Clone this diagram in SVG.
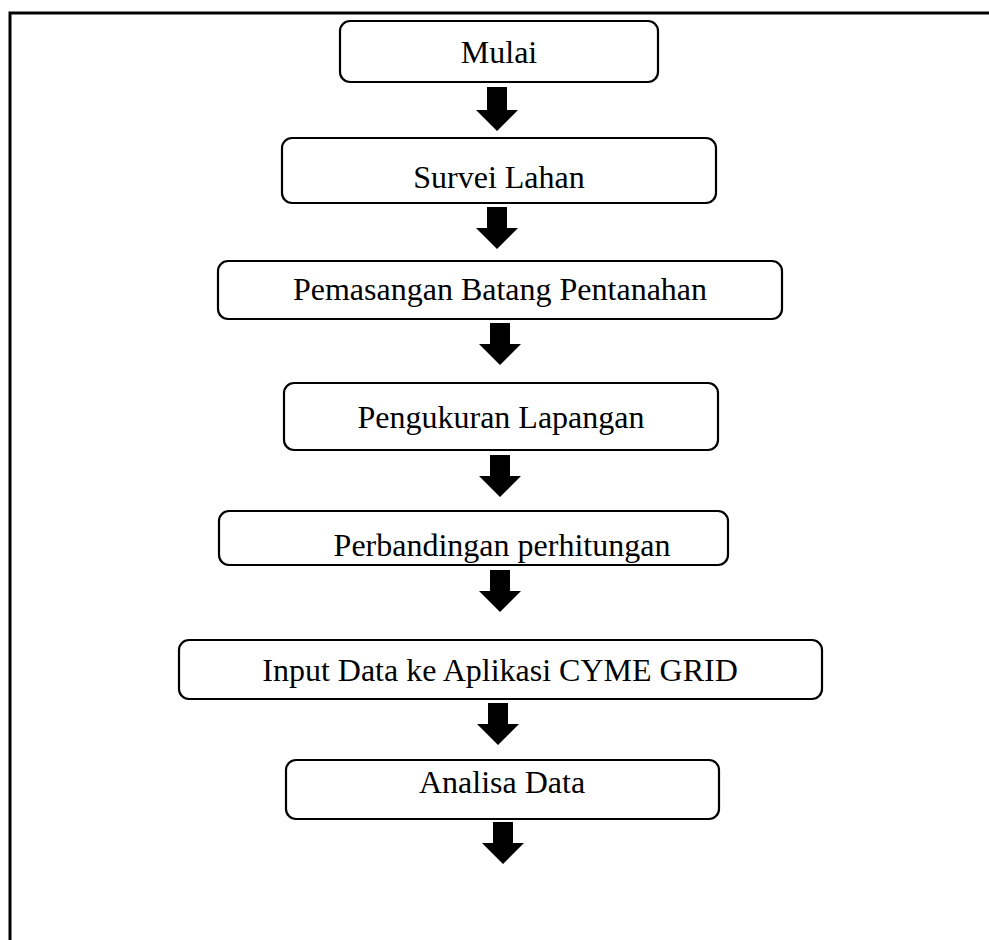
<svg xmlns="http://www.w3.org/2000/svg" width="989" height="940" viewBox="0 0 989 940">
<style>
.box{fill:#fff;stroke:#000;stroke-width:2.2}
.t{font-family:"Liberation Serif","Times New Roman",serif;font-size:32px;fill:#000;text-anchor:middle}
.arr{fill:#000}
.frame{fill:none;stroke:#000;stroke-width:3}
</style>
<rect width="989" height="940" fill="#fff"/>
<path class="frame" d="M10,940 V13 H989"/>
<g id="n1"><rect class="box" x="340" y="21" width="318" height="61" rx="10"/><text class="t" x="499" y="63">Mulai</text></g>
<g id="n2"><rect class="box" x="282" y="138" width="434" height="65" rx="10"/><text class="t" x="499" y="188">Survei Lahan</text></g>
<g id="n3"><rect class="box" x="218" y="261" width="564" height="58" rx="10"/><text class="t" x="500" y="300">Pemasangan Batang Pentanahan</text></g>
<g id="n4"><rect class="box" x="284" y="383" width="434" height="67" rx="10"/><text class="t" x="501" y="428">Pengukuran Lapangan</text></g>
<g id="n5"><rect class="box" x="219" y="511" width="509" height="54" rx="10"/><text class="t" x="502" y="556">Perbandingan perhitungan</text></g>
<g id="n6"><rect class="box" x="179" y="640" width="643" height="59" rx="10"/><text class="t" x="500" y="681">Input Data ke Aplikasi CYME GRID</text></g>
<g id="n7"><rect class="box" x="286" y="760" width="433" height="59" rx="10"/><text class="t" x="502" y="793">Analisa Data</text></g>
<g id="connectors">
<path class="arr" d="M487,87 H507 V110 H518 L497,131 L476,110 H487 Z"/>
<path class="arr" d="M487,207 H507 V228 H518 L497,249 L476,228 H487 Z"/>
<path class="arr" d="M490,323 H510 V344 H521 L500,365 L479,344 H490 Z"/>
<path class="arr" d="M490,455 H510 V476 H521 L500,497 L479,476 H490 Z"/>
<path class="arr" d="M490,570 H510 V591 H521 L500,612 L479,591 H490 Z"/>
<path class="arr" d="M488,703 H508 V724 H519 L498,745 L477,724 H488 Z"/>
<path class="arr" d="M493,822 H513 V843 H524 L503,864 L482,843 H493 Z"/>
</g>
</svg>
